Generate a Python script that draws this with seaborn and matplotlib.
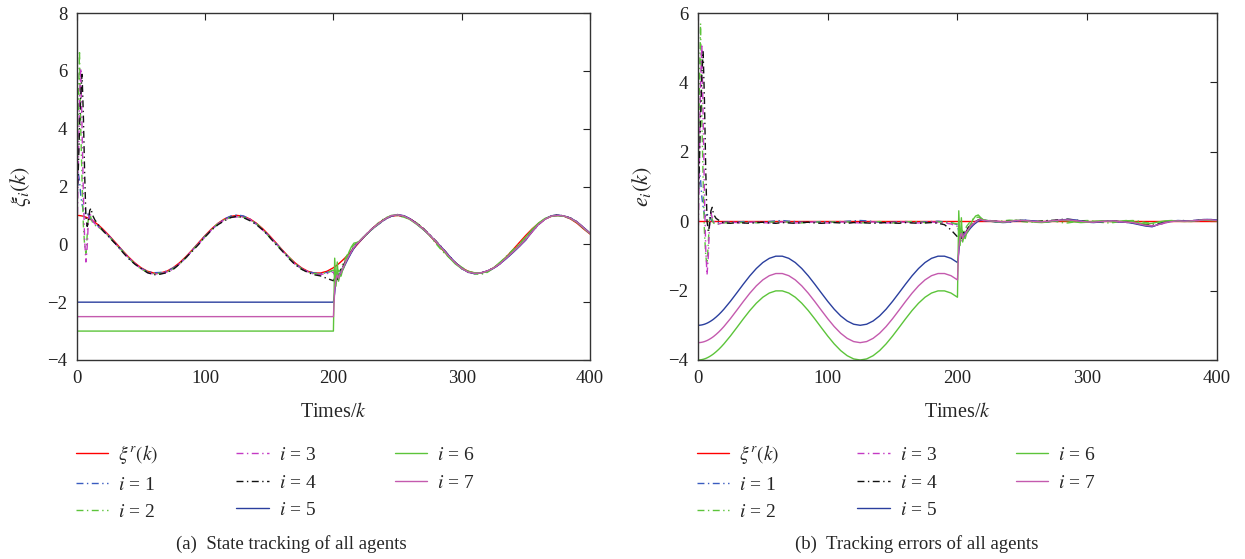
import numpy as np
import pandas as pd
import matplotlib
matplotlib.use("Agg")
import matplotlib.pyplot as plt
import seaborn as sns

# sample instants (fine around the start-up and the switch at k = 200)
k_steps = [0, 1, 2, 3, 4, 5, 6, 7, 8, 9, 10, 11, 12,
           14, 16, 18, 20,
           25, 30, 35, 40, 45, 50, 55, 60, 65, 70, 75, 80, 85, 90, 95, 100,
           105, 110, 115, 120, 125, 130, 135, 140, 145, 150, 155, 160, 165,
           170, 175, 180, 185, 190, 195,
           200, 201, 202, 203, 204, 205, 206, 207, 208, 209, 210,
           212, 214, 216, 218, 220,
           225, 230, 235, 240, 245, 250, 255, 260, 265, 270, 275, 280, 285,
           290, 295, 300, 305, 310, 315, 320, 325, 330, 335, 340, 345, 350,
           355, 360, 365, 370, 375, 380, 385, 390, 395, 400]

# reference state xi^r(k)
xi_ref = [1.000, 0.999, 0.995, 0.989, 0.980, 0.969, 0.955, 0.939, 0.920, 0.899, 0.876, 0.851, 0.824,
          0.762, 0.694, 0.618, 0.536,
          0.309, 0.063, -0.187, -0.426, -0.637, -0.809, -0.930, -0.992, -0.992, -0.930, -0.809, -0.637,
          -0.426, -0.187, 0.063, 0.309, 0.536, 0.729, 0.876, 0.969, 1.000, 0.969, 0.876, 0.729, 0.536,
          0.309, 0.063, -0.187, -0.426, -0.637, -0.809, -0.930, -0.992, -0.992, -0.930,
          -0.809, -0.778, -0.746, -0.711, -0.676, -0.637, -0.598, -0.557, -0.514, -0.471, -0.426,
          -0.333, -0.237, -0.138, -0.038, 0.063,
          0.309, 0.536, 0.729, 0.876, 0.969, 1.000, 0.969, 0.876, 0.729, 0.536, 0.309, 0.063, -0.187,
          -0.426, -0.637, -0.809, -0.930, -0.992, -0.992, -0.930, -0.809, -0.637, -0.426, -0.187, 0.063,
          0.309, 0.536, 0.729, 0.876, 0.969, 1.000, 0.969, 0.876, 0.729, 0.536, 0.36]

# tracking errors of agents 1-4 (all samples)
e1 = [0.5, 1.5, 1.2, 0.7, 0.4, 0.2, 0.1, 0.18, 0.2, 0.1, 0.05, 0.0, -0.02,
      -0.03, -0.04, -0.05, -0.03,
      -0.02, -0.03, -0.01, -0.03, -0.04, -0.02, -0.01, 0.01, 0.02, 0.0, -0.01, -0.03, -0.04, -0.02,
      -0.01, -0.02, -0.03, -0.02, 0.0, 0.01, 0.02, 0.01, -0.01, -0.03, -0.04, -0.03, -0.02, -0.01,
      -0.02, -0.03, -0.02, -0.01, 0.0, -0.02, -0.04,
      -0.1, -0.35, -0.55, -0.4, -0.3, -0.38, -0.3, -0.25, -0.2, -0.17, -0.14,
      -0.09, -0.05, 0.0, 0.04, 0.03,
      0.01, -0.02, -0.04, -0.03, 0.0, 0.03, 0.02, 0.0, -0.02, -0.01, 0.02, 0.04, 0.05, 0.03, 0.0,
      -0.03, -0.04, -0.02, 0.0, 0.01, -0.01, -0.03, -0.05, -0.08, -0.12, -0.15, -0.1, -0.04, 0.0,
      0.02, 0.01, 0.0, 0.02, 0.04, 0.05, 0.03]
e2 = [1.0, 3.5, 5.7, 3.0, 1.2, -0.3, -1.0, -1.25, -0.6, 0.1, 0.2, 0.05, -0.05,
      -0.1, -0.08, -0.06, -0.05,
      -0.04, -0.05, -0.03, -0.02, -0.04, -0.05, -0.03, -0.02, -0.01, -0.03, -0.04, -0.05, -0.03,
      -0.02, -0.03, -0.04, -0.02, -0.01, -0.02, -0.04, -0.05, -0.04, -0.02, -0.01, -0.03, -0.05,
      -0.04, -0.02, -0.01, -0.02, -0.04, -0.03, -0.02, -0.03, -0.05,
      -0.08, -0.2, -0.6, -0.4, -0.22, -0.3, -0.25, -0.15, -0.1, -0.05, 0.0,
      0.06, 0.1, 0.12, 0.08, 0.03,
      0.0, -0.02, 0.01, 0.03, 0.02, -0.01, -0.03, -0.02, 0.01, 0.02, 0.0, -0.04, -0.05, -0.02, 0.01,
      0.02, 0.0, -0.03, -0.05, -0.04, -0.01, 0.01, 0.02, 0.0, -0.04, -0.06, -0.05, -0.02, 0.0, 0.01,
      0.0, -0.01, 0.01, 0.03, 0.04, 0.02]
e3 = [-1.0, 1.5, 4.0, 5.1, 3.0, 0.8, -0.8, -1.55, -1.0, 0.0, 0.25, 0.1, 0.0,
      -0.05, -0.08, -0.06, -0.04,
      -0.03, -0.04, -0.05, -0.03, -0.02, -0.04, -0.05, -0.04, -0.02, -0.03, -0.05, -0.04, -0.03,
      -0.02, -0.04, -0.05, -0.03, -0.02, -0.03, -0.04, -0.05, -0.03, -0.02, -0.04, -0.05, -0.04,
      -0.02, -0.03, -0.04, -0.05, -0.03, -0.02, -0.04, -0.05, -0.08,
      -0.15, -0.3, -0.4, -0.6, -0.45, -0.3, -0.35, -0.25, -0.2, -0.15, -0.1,
      -0.05, 0.0, 0.05, 0.06, 0.03,
      0.02, 0.0, -0.02, -0.01, 0.02, 0.03, 0.01, -0.01, -0.02, 0.0, 0.02, 0.03, 0.04, 0.02, -0.01,
      -0.03, -0.02, 0.0, 0.01, 0.0, -0.02, -0.04, -0.03, -0.06, -0.1, -0.13, -0.11, -0.05, -0.01,
      0.01, 0.0, 0.01, 0.03, 0.05, 0.04, 0.02]
e4 = [0.5, 1.5, 3.0, 4.2, 4.9, 3.5, 1.5, 0.0, -0.3, -0.1, 0.3, 0.4, 0.2,
      0.08, 0.03, -0.02, -0.05,
      -0.06, -0.04, -0.05, -0.06, -0.04, -0.03, -0.05, -0.06, -0.04, -0.05, -0.06, -0.04, -0.03,
      -0.05, -0.06, -0.05, -0.04, -0.05, -0.06, -0.04, -0.03, -0.05, -0.06, -0.05, -0.04, -0.05,
      -0.06, -0.04, -0.05, -0.06, -0.05, -0.04, -0.06, -0.1, -0.25,
      -0.45, -0.4, -0.3, -0.5, -0.4, -0.3, -0.25, -0.3, -0.2, -0.15, -0.12,
      -0.08, -0.02, 0.04, 0.05, 0.02,
      0.01, 0.0, -0.02, 0.0, 0.02, 0.01, 0.0, -0.01, 0.0, 0.02, 0.03, 0.05, 0.06, 0.04, 0.01,
      -0.02, -0.03, -0.01, 0.0, 0.01, -0.01, -0.02, -0.04, -0.07, -0.1, -0.12, -0.08, -0.03, 0.0,
      0.01, 0.02, 0.01, 0.03, 0.04, 0.03, 0.02]

# agents 5-7 hold a constant state up to k = 200, then track (errors for k > 200)
hold_5, hold_6, hold_7 = -2.0, -3.0, -2.5
e5_late = [-0.9, -0.5, -0.3, -0.38, -0.45, -0.4, -0.35, -0.3, -0.25, -0.2,
           -0.12, -0.05, 0.0, 0.04, 0.02,
           0.0, -0.02, -0.03, -0.02, 0.01, 0.03, 0.02, 0.0, -0.02, -0.02, 0.01, 0.03, 0.05, 0.04,
           0.01, -0.02, -0.03, -0.02, 0.0, 0.0, -0.02, -0.03, -0.06, -0.1, -0.14, -0.16, -0.09,
           -0.03, 0.0, 0.02, 0.01, 0.01, 0.03, 0.05, 0.05, 0.03]
e6_late = [0.3, -0.7, 0.1, -0.6, -0.45, -0.5, -0.35, -0.3, -0.2, -0.1,
           0.05, 0.15, 0.18, 0.1, 0.04,
           0.01, -0.01, -0.03, 0.0, 0.03, 0.02, 0.0, -0.03, -0.04, -0.02, 0.01, 0.02, 0.01, -0.02,
           -0.04, -0.03, 0.0, 0.01, 0.0, -0.02, 0.0, 0.02, -0.01, -0.05, -0.08, -0.06, -0.02, 0.01,
           0.02, 0.0, -0.01, 0.0, 0.02, 0.03, 0.02, 0.01]
e7_late = [-0.8, -0.45, -0.35, -0.5, -0.4, -0.38, -0.3, -0.25, -0.2, -0.15,
           -0.08, -0.02, 0.03, 0.05, 0.02,
           0.01, 0.0, -0.02, -0.01, 0.02, 0.02, 0.01, -0.01, -0.02, 0.0, 0.02, 0.03, 0.04, 0.02,
           0.0, -0.02, -0.03, -0.01, 0.0, 0.01, -0.01, -0.03, -0.04, -0.08, -0.12, -0.14, -0.1,
           -0.04, -0.01, 0.01, 0.0, 0.01, 0.02, 0.04, 0.04, 0.02]

labels = [r"$\xi^r(k)$", r"$i$ = 1", r"$i$ = 2", r"$i$ = 3", r"$i$ = 4",
          r"$i$ = 5", r"$i$ = 6", r"$i$ = 7"]
colors = ["#ff0000", "#3a5cc0", "#5cc43a", "#c43ac4", "#111111",
          "#2a3f9e", "#5cc43a", "#c45aae"]
dashdot = (0, (5, 2.5, 1, 2.5))
styles = ["-", dashdot, dashdot, dashdot, dashdot, "-", "-", "-"]

# build states and errors
k = np.array(k_steps, dtype=float)
ref = np.array(xi_ref)
late = k > 200

states, errors = [], []
for e in (e1, e2, e3, e4):
    states.append(ref + np.array(e))
    errors.append(np.array(e))
for hold, e_late in ((hold_5, e5_late), (hold_6, e6_late), (hold_7, e7_late)):
    s = np.full_like(ref, hold)
    s[late] = ref[late] + np.array(e_late)
    states.append(s)
    errors.append(s - ref)

sns.set_style("white")
plt.rcParams["font.family"] = ["Liberation Serif", "DejaVu Serif"]
plt.rcParams["mathtext.fontset"] = "stix"
plt.rcParams["axes.unicode_minus"] = True

fig = plt.figure(figsize=(12.45, 5.59), dpi=100)
ax1 = fig.add_axes([0.0618, 0.356, 0.4120, 0.6207])
ax2 = fig.add_axes([0.5606, 0.356, 0.4169, 0.6207])

panels = [
    (ax1, states, ref, r"$\xi_i(k)$", (-4, 8), [-4, -2, 0, 2, 4, 6, 8]),
    (ax2, errors, np.zeros_like(ref), r"$e_i(k)$", (-4, 6), [-4, -2, 0, 2, 4, 6]),
]

for ax, series, ref_line, ylab, ylim, yticks in panels:
    # reference first so the agents' dashes sit on top of it
    sns.lineplot(x=k, y=ref_line, ax=ax, color=colors[0], linewidth=1.0,
                 estimator=None, sort=False)
    handles = [ax.lines[-1]]
    for j, y in enumerate(series):
        sns.lineplot(x=k, y=y, ax=ax, color=colors[j + 1], linestyle=styles[j + 1],
                     linewidth=1.0, estimator=None, sort=False)
        handles.append(ax.lines[-1])

    ax.set_xlim(0, 400)
    ax.set_ylim(*ylim)
    ax.set_xticks([0, 100, 200, 300, 400])
    ax.set_yticks(yticks)
    ax.set_xlabel(r"Times/$k$", fontsize=14.5, labelpad=12)
    ax.set_ylabel(ylab, fontsize=16, labelpad=10)
    ax.tick_params(direction="in", top=True, right=True, length=5, width=0.8,
                   labelsize=13.5, pad=7, colors="#222222")
    for sp in ax.spines.values():
        sp.set_visible(True)
        sp.set_color("#333333")
        sp.set_linewidth(1.0)

    x0 = ax.get_position().x0
    fig.legend(handles, labels, loc="upper left", bbox_to_anchor=(x0 - 0.001, 0.207),
               ncol=3, frameon=False, fontsize=14, handlelength=1.65,
               handletextpad=0.55, columnspacing=4.0, labelspacing=0.5,
               borderpad=0, borderaxespad=0)

fig.text(0.234, 0.018, "(a)  State tracking of all agents", ha="center", fontsize=13.5)
fig.text(0.736, 0.018, "(b)  Tracking errors of all agents", ha="center", fontsize=13.5)

fig.savefig("out.png", dpi=100)
